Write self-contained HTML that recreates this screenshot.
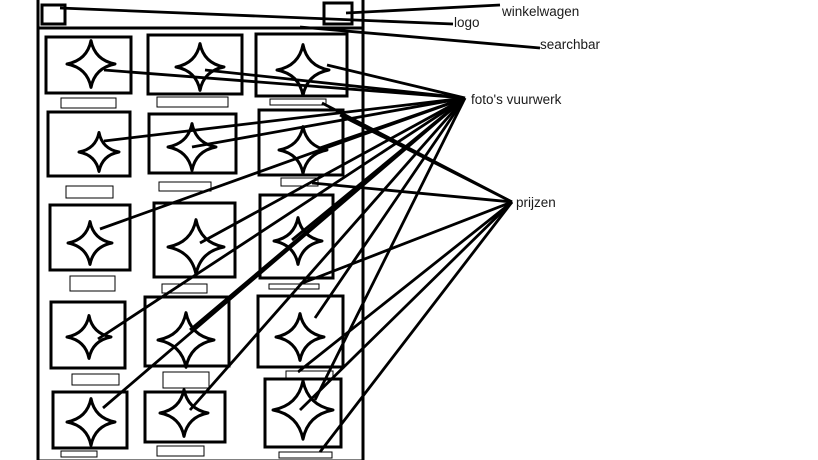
<!DOCTYPE html>
<html><head><meta charset="utf-8"><style>
html,body{margin:0;padding:0;background:#fff;}
svg{display:block;}
text{font-family:"Liberation Sans",sans-serif;font-size:13.5px;fill:#1a1a1a;}
</style></head><body>
<svg id="s" width="818" height="460" viewBox="0 0 818 460">
<g id="frame" fill="none" stroke="#000" stroke-width="3">
<rect x="38" y="-2" width="325" height="463"/>
<line x1="38" y1="28" x2="363" y2="28"/>
<rect x="42" y="5" width="23" height="19"/>
<rect x="324" y="3" width="28" height="21"/>
</g>
<g id="cards" fill="none" stroke="#000"></g>
<g id="lines" stroke="#000" stroke-width="2.8"></g>
<text x="502" y="16">winkelwagen</text>
<text x="454" y="27">logo</text>
<text x="540" y="49">searchbar</text>
<text x="471" y="104">foto's vuurwerk</text>
<text x="516" y="207">prijzen</text>
</svg>
<script>
const NS="http://www.w3.org/2000/svg";
const imgs=[[46,37,85,56],[148,35,94,59],[256,34,91,62],
[48,112,82,64],[149,114,87,59],[259,110,84,65],
[50,205,80,65],[154,203,81,74],[260,195,73,83],
[51,302,74,66],[145,297,84,69],[258,296,85,71],
[53,392,74,56],[145,392,80,50],[265,379,76,68]];
const prices=[[61,98,55,10],[157,97,71,10],[270,99,56,6],
[66,186,47,12],[159,182,52,9],[281,178,37,8],
[70,276,45,15],[162,284,45,9],[269,284,50,5],
[72,374,47,11],[163,372,46,16],[286,371,47,7],
[61,451,36,6],[157,446,47,10],[279,452,53,6]];
const stars=[[91,64,12],[200,67,12],[303,70,13],[99,152,10],[192,147,12],[303,150,12],
[90,243,11],[196,247,14],[298,241,12],[89,337,11],[186,340,14],[300,337,12],
[91,422,12],[184,413,12],[303,410,15]];
const cards=document.getElementById('cards');
imgs.forEach((r,i)=>{const e=document.createElementNS(NS,'rect');
e.setAttribute('x',r[0]);e.setAttribute('y',r[1]);e.setAttribute('width',r[2]);e.setAttribute('height',r[3]);e.setAttribute('stroke-width','3');


cards.appendChild(e);});
prices.forEach(r=>{const e=document.createElementNS(NS,'rect');
e.setAttribute('x',r[0]);e.setAttribute('y',r[1]);e.setAttribute('width',r[2]);e.setAttribute('height',r[3]);e.setAttribute('stroke-width','1');


cards.appendChild(e);});
stars.forEach(s=>{const [x,y,r]=s;const h=r*1.95,w=r*2,k=r*0.32;
const d=`M${x} ${y-h} Q${x+k} ${y-k} ${x+w} ${y} Q${x+k} ${y+k} ${x} ${y+h} Q${x-k} ${y+k} ${x-w} ${y} Q${x-k} ${y-k} ${x} ${y-h}Z`;
const e=document.createElementNS(NS,'path');e.setAttribute('d',d);e.setAttribute('stroke-width','3');e.setAttribute('stroke-linejoin','round');


cards.appendChild(e);});
const L=document.getElementById('lines');
function ln(a,b,c,d,n){const e=document.createElementNS(NS,'line');e.setAttribute('x1',a);e.setAttribute('y1',b);e.setAttribute('x2',c);e.setAttribute('y2',d);


L.appendChild(e);}
ln(346,13,500,5,'winkelwagen-pointer');
ln(60,8,453,24,'logo-pointer');
ln(300,27,540,48,'searchbar-pointer');
const fx=465,fy=98;
const fotoT=[[104,70],[205,70],[327,65],[104,141],[192,147],[320,148],[100,229],[200,243],[292,240],[98,339],[190,330],[315,318],[103,408],[190,410],[315,400]];
fotoT.forEach(t=>ln(fx,fy,t[0],t[1],'foto-pointer'));
const px=512,py=202;
const prijsT=[[322,103],[312,183],[300,284],[298,372],[300,410],[320,452],[340,115]];
prijsT.forEach(t=>ln(px,py,t[0],t[1],'prijs-pointer'));
</script>
</body></html>
